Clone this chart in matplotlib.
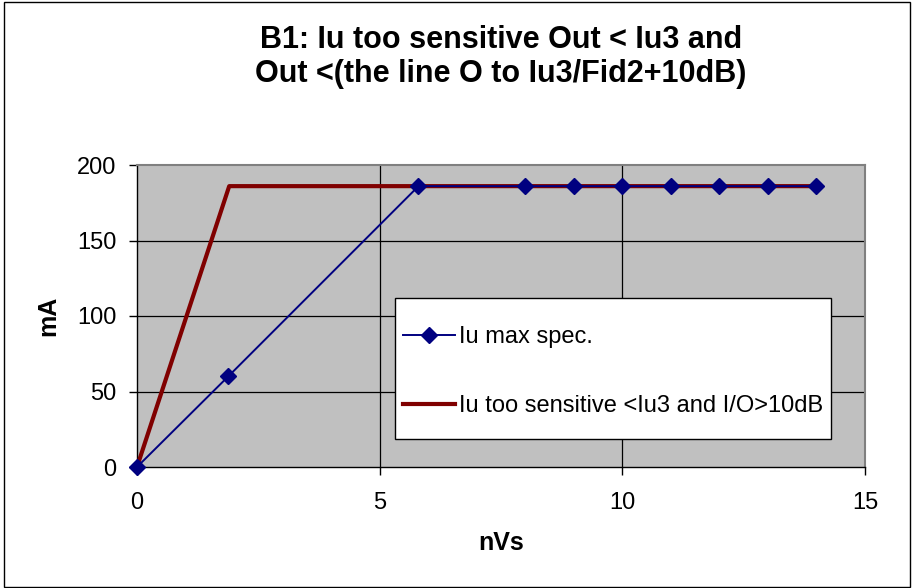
import matplotlib.pyplot as plt
from matplotlib.patches import Rectangle

plt.rcParams['font.family'] = ['Liberation Sans', 'DejaVu Sans']

# series data
x_spec = [0, 1.88, 5.8, 8, 9, 10, 11, 12, 13, 14]
y_spec = [0, 60, 186, 186, 186, 186, 186, 186, 186, 186]
x_sens = [0, 1.9, 14]
y_sens = [0, 186, 186]

xticks = [0, 5, 10, 15]
yticks = [0, 50, 100, 150, 200]

title = "B1: Iu too sensitive Out < Iu3 and\nOut <(the line O to Iu3/Fid2+10dB)"
label_spec = "Iu max spec."
label_sens = "Iu too sensitive <Iu3 and I/O>10dB"

fig = plt.figure(figsize=(9.14, 5.88), dpi=100)
fig.patches.append(Rectangle((0.004, 0.002), 0.992, 0.994, transform=fig.transFigure,
                             fill=False, edgecolor='black', linewidth=1))
ax = fig.add_axes([137/914, 1 - 467/588, 728/914, 302/588])
ax.set_facecolor('#C0C0C0')

ax.set_xlim(0, 15)
ax.set_ylim(0, 200)
ax.set_xticks(xticks)
ax.set_yticks(yticks)
for v in xticks[1:-1]:
    ax.axvline(v, color='black', lw=0.9, zorder=1)
for v in yticks[1:-1]:
    ax.axhline(v, color='black', lw=0.9, zorder=1)

ax.plot(x_sens, y_sens, color='#800000', lw=3, zorder=3, clip_on=False, label=label_sens)
ax.plot(x_spec, y_spec, color='#000080', lw=1.4, marker='D', markersize=8.5,
        zorder=4, clip_on=False, label=label_spec)

for s in ['top', 'right']:
    ax.spines[s].set_color('#808080')
    ax.spines[s].set_linewidth(1.5)
for s in ['left', 'bottom']:
    ax.spines[s].set_color('black')
    ax.spines[s].set_linewidth(1)

ax.tick_params(direction='out', length=6, width=1, labelsize=17, colors='black')
ax.tick_params(axis='x', pad=12)
ax.tick_params(axis='y', pad=9)

ax.set_xlabel('nVs', fontsize=18, fontweight='bold', labelpad=12)
ax.set_ylabel('mA', fontsize=18, fontweight='bold', labelpad=12)

fig.text(0.548, 1 - 57/588, title, ha='center', va='center', fontsize=22,
         fontweight='bold', linespacing=1.15)

# legend box drawn separately so its padding matches
ax.add_patch(Rectangle((0.354, 0.093), 0.599, 0.467, transform=ax.transAxes,
                       facecolor='white', edgecolor='black', lw=1, zorder=5))
handles, labels = ax.get_legend_handles_labels()
leg = ax.legend(handles[::-1], labels[::-1], loc='center left', bbox_to_anchor=(0.365, 0.316),
                frameon=False, fontsize=17, borderpad=0, borderaxespad=0,
                labelspacing=2.0, handlelength=2.2, handletextpad=0.2)
leg.set_zorder(6)

fig.savefig('out.png', dpi=100)
